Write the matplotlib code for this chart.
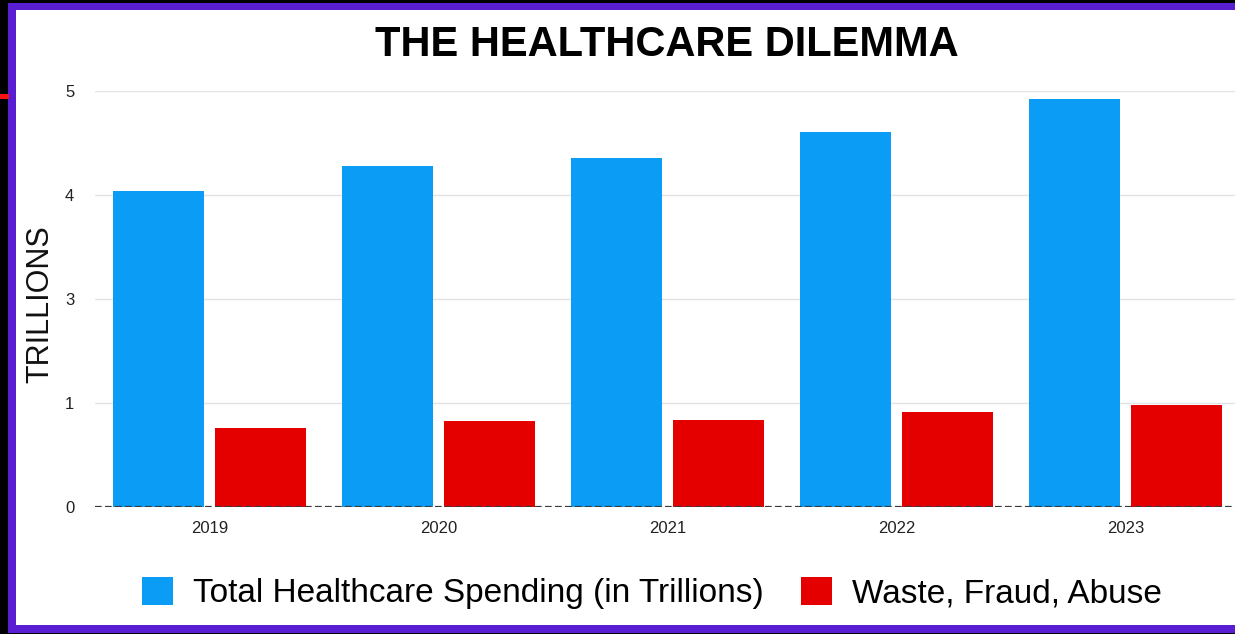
import numpy as np
import matplotlib
matplotlib.use('Agg')
import matplotlib.pyplot as plt
from matplotlib.patches import Rectangle, Patch

plt.rcParams['font.family'] = ['Liberation Sans', 'DejaVu Sans']

years = ['2019', '2020', '2021', '2022', '2023']
total_spending = [4.04, 4.28, 4.36, 4.61, 4.92]
waste_fraud = [0.76, 0.83, 0.84, 0.91, 0.98]
ytick_values = [0, 1, 3, 4, 5]

BLUE = '#0b9cf5'
RED = '#e50000'
PURPLE = '#5a1ed2'

W, H = 1235, 634

# the original axis skips "2": labels 0,1,3,4,5 are evenly spaced
label_pos = [0, 1, 2, 3, 4]
def forward(v):
    return np.interp(v, ytick_values, label_pos)
def inverse(v):
    return np.interp(v, label_pos, ytick_values)

fig = plt.figure(figsize=(W / 100, H / 100), dpi=100, facecolor='black')

# purple frame + white panel
fig.add_artist(Rectangle((8 / W, 1 / H), 1.0, 630 / H, transform=fig.transFigure,
                         facecolor=PURPLE, edgecolor='none', zorder=-10))
fig.add_artist(Rectangle((16 / W, 9 / H), 1.0, 615 / H, transform=fig.transFigure,
                         facecolor='white', edgecolor='none', zorder=-9))
fig.add_artist(Rectangle((0, (634 - 99) / H), 9 / W, 5 / H, transform=fig.transFigure,
                         facecolor='#ff1010', edgecolor='none', zorder=-8))

ax = fig.add_axes([95 / W, (H - 507) / H, 1145 / W, 416 / H])
ax.set_facecolor('none')
ax.set_yscale('function', functions=(forward, inverse))

x = np.arange(len(years))
ax.bar(x - 0.222, total_spending, width=0.4, color=BLUE, zorder=2)
ax.bar(x + 0.222, waste_fraud, width=0.4, color=RED, zorder=2)

ax.set_xlim(-0.5, 4.5)
ax.set_ylim(0, 5)
ax.set_yticks(ytick_values)
ax.set_yticklabels([str(v) for v in ytick_values])
ax.set_xticks(x)
ax.set_xticklabels(years)
ax.tick_params(axis='both', length=0, labelsize=12, colors='#222222')
ax.tick_params(axis='y', pad=15)
ax.tick_params(axis='x', pad=10)
ax.yaxis.grid(True, color='#e3e3e3', linewidth=1)
ax.set_axisbelow(True)
for s in ax.spines.values():
    s.set_visible(False)
ax.axhline(0, color='#3a3a3a', linewidth=1.6, linestyle=(0, (3, 1.5)), zorder=3)

fig.text(667 / W, (H - 45) / H, 'THE HEALTHCARE DILEMMA', ha='center', va='center',
         fontsize=30, fontweight='bold', color='black')
fig.text(40 / W, (H - 304) / H, 'TRILLIONS', rotation=90, ha='center', va='center',
         fontsize=22, color='#111111')

handles = [Patch(facecolor=BLUE), Patch(facecolor=RED)]
fig.legend(handles, ['Total Healthcare Spending (in Trillions)', 'Waste, Fraud, Abuse'],
           loc='center', bbox_to_anchor=(652 / W, (H - 593) / H), ncol=2, frameon=False,
           fontsize=24, handlelength=0.95, handleheight=0.95, handletextpad=0.6,
           columnspacing=1.1, borderpad=0)

fig.savefig('out.png', dpi=100, facecolor='black')
